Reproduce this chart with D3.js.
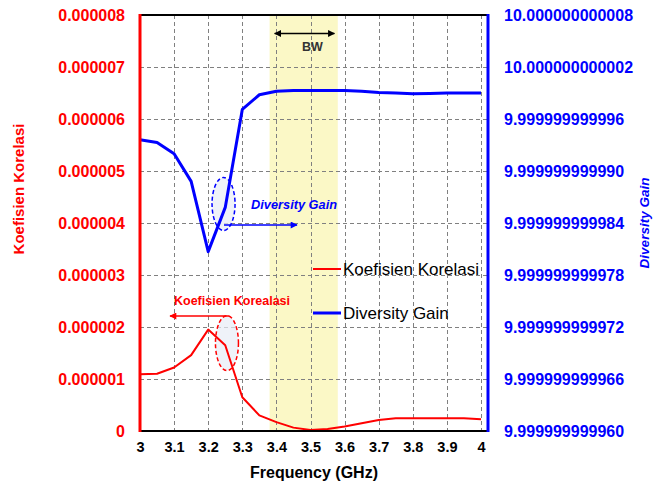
<!DOCTYPE html>
<html>
<head>
<meta charset="utf-8">
<script src="https://cdn.jsdelivr.net/npm/d3@7"></script>
<style>
  body { margin: 0; background: #fff; }
  svg { display: block; }
  text { font-family: "Liberation Sans", Arial, sans-serif; }
</style>
</head>
<body>
<svg id="chart" width="661" height="483"></svg>
<script>
// Frequency sweep (GHz)
const frequency = [3.0, 3.05, 3.1, 3.15, 3.2, 3.25, 3.3, 3.35, 3.4, 3.45, 3.5,
                   3.55, 3.6, 3.65, 3.7, 3.75, 3.8, 3.85, 3.9, 3.95, 4.0];
// Envelope correlation coefficient
const korelasi = [1.09e-6, 1.10e-6, 1.22e-6, 1.46e-6, 1.95e-6, 1.65e-6, 0.65e-6, 0.30e-6,
                  0.17e-6, 0.065e-6, 0.02e-6, 0.04e-6, 0.085e-6, 0.15e-6, 0.21e-6, 0.245e-6,
                  0.245e-6, 0.245e-6, 0.245e-6, 0.245e-6, 0.225e-6];
// Diversity gain (dB)
const diversityGain = [9.9999999999936, 9.9999999999933, 9.9999999999920, 9.9999999999888,
                       9.9999999999807, 9.9999999999858, 9.9999999999971, 9.9999999999988,
                       9.9999999999992, 9.9999999999993, 9.9999999999993, 9.9999999999993,
                       9.9999999999993, 9.9999999999992, 9.99999999999905, 9.9999999999990,
                       9.9999999999989, 9.99999999999895, 9.9999999999990, 9.9999999999990,
                       9.9999999999990];

const xTicks = [3, 3.1, 3.2, 3.3, 3.4, 3.5, 3.6, 3.7, 3.8, 3.9, 4];
const xTickLabels = ["3", "3.1", "3.2", "3.3", "3.4", "3.5", "3.6", "3.7", "3.8", "3.9", "4"];
const leftTicks = [0, 1e-6, 2e-6, 3e-6, 4e-6, 5e-6, 6e-6, 7e-6, 8e-6];
const leftTickLabels = ["0", "0.000001", "0.000002", "0.000003", "0.000004",
                        "0.000005", "0.000006", "0.000007", "0.000008"];
const rightTickLabels = ["9.999999999960", "9.999999999966", "9.999999999972", "9.999999999978",
                         "9.999999999984", "9.999999999990", "9.999999999996", "10.000000000002",
                         "10.000000000008"];
const rightTicks = rightTickLabels.map(Number);
const bandwidth = [3.38, 3.58];

const RED = "#ff0000", BLUE = "#0000ff";
const svg = d3.select("#chart");

const plot = { left: 140, right: 488, top: 15, bottom: 431 };
const x = d3.scaleLinear().domain([3, 4]).range([140, 481]);
const yL = d3.scaleLinear().domain([0, 8e-6]).range([plot.bottom, plot.top]);
const yR = d3.scaleLinear().domain([rightTicks[0], rightTicks[rightTicks.length - 1]])
  .range([plot.bottom, plot.top]);

// Bandwidth highlight
svg.append("rect")
  .attr("x", x(bandwidth[0])).attr("y", plot.top)
  .attr("width", x(bandwidth[1]) - x(bandwidth[0]))
  .attr("height", plot.bottom - plot.top)
  .attr("fill", "#fbf8c6");

// Dashed grid
const grid = svg.append("g").attr("stroke", "#808080").attr("stroke-width", 1)
  .attr("stroke-dasharray", "4,3");
grid.selectAll("line.v").data(xTicks.slice(1)).join("line")
  .attr("x1", d => Math.round(x(d)) + 0.5).attr("x2", d => Math.round(x(d)) + 0.5)
  .attr("y1", plot.top).attr("y2", plot.bottom);
grid.selectAll("line.h").data(leftTicks.slice(1, -1)).join("line")
  .attr("x1", plot.left).attr("x2", plot.right)
  .attr("y1", d => Math.round(yL(d)) + 0.5).attr("y2", d => Math.round(yL(d)) + 0.5);

// Annotation ellipses
svg.append("ellipse")
  .attr("cx", x(3.245)).attr("cy", yR(9.9999999999862))
  .attr("rx", 11.5).attr("ry", 26.5)
  .attr("fill", "#e8edf7").attr("fill-opacity", 0.7)
  .attr("stroke", BLUE).attr("stroke-width", 1.5).attr("stroke-dasharray", "4,2.5");
svg.append("ellipse")
  .attr("cx", x(3.255)).attr("cy", yL(1.69e-6))
  .attr("rx", 11.5).attr("ry", 27.5)
  .attr("fill", "#e8edf7").attr("fill-opacity", 0.7)
  .attr("stroke", RED).attr("stroke-width", 1.5).attr("stroke-dasharray", "4,2.5");

// Series lines
const lineK = d3.line().x((d, i) => x(frequency[i])).y(d => yL(d));
const lineD = d3.line().x((d, i) => x(frequency[i])).y(d => yR(d));
svg.append("path").datum(diversityGain).attr("d", lineD)
  .attr("fill", "none").attr("stroke", BLUE).attr("stroke-width", 3)
  .attr("stroke-linejoin", "round");
svg.append("path").datum(korelasi).attr("d", lineK)
  .attr("fill", "none").attr("stroke", RED).attr("stroke-width", 2)
  .attr("stroke-linejoin", "round");

// Frame
svg.append("line").attr("x1", plot.left).attr("x2", plot.right)
  .attr("y1", plot.top).attr("y2", plot.top).attr("stroke", "#000").attr("stroke-width", 2);
svg.append("line").attr("x1", plot.left).attr("x2", plot.right)
  .attr("y1", plot.bottom).attr("y2", plot.bottom).attr("stroke", "#000").attr("stroke-width", 2);
svg.append("line").attr("x1", plot.left).attr("x2", plot.left)
  .attr("y1", plot.top - 1).attr("y2", plot.bottom + 1).attr("stroke", RED).attr("stroke-width", 3);
svg.append("line").attr("x1", plot.right).attr("x2", plot.right)
  .attr("y1", plot.top - 1).attr("y2", plot.bottom + 1).attr("stroke", BLUE).attr("stroke-width", 3);

// Axes (labels only; frame drawn above)
const axL = d3.axisLeft(yL).tickValues(leftTicks).tickSize(0).tickPadding(0)
  .tickFormat((d, i) => leftTickLabels[i]);
const gL = svg.append("g").attr("transform", "translate(125,0)").call(axL);
gL.select(".domain").remove();
gL.selectAll("text").attr("fill", RED).attr("font-size", 16).attr("font-weight", "bold")
  .attr("font-family", "Liberation Sans, Arial, sans-serif");

const axR = d3.axisRight(yR).tickValues(rightTicks).tickSize(0).tickPadding(0)
  .tickFormat((d, i) => rightTickLabels[i]);
const gR = svg.append("g").attr("transform", "translate(504,0)").call(axR);
gR.select(".domain").remove();
gR.selectAll("text").attr("fill", BLUE).attr("font-size", 16).attr("font-weight", "bold")
  .attr("font-family", "Liberation Sans, Arial, sans-serif");

const axB = d3.axisBottom(x).tickValues(xTicks).tickSize(0).tickPadding(0)
  .tickFormat((d, i) => xTickLabels[i]);
const gB = svg.append("g").attr("transform", "translate(0,442)").call(axB);
gB.select(".domain").remove();
gB.selectAll("text").attr("fill", "#000").attr("font-size", 14.5).attr("font-weight", "bold")
  .attr("font-family", "Liberation Sans, Arial, sans-serif");

// Axis titles
svg.append("text").attr("x", 314).attr("y", 478).attr("text-anchor", "middle")
  .attr("font-size", 16).attr("font-weight", "bold").attr("fill", "#000")
  .text("Frequency (GHz)");
svg.append("text").attr("transform", "translate(24,189) rotate(-90)")
  .attr("text-anchor", "middle").attr("font-size", 15).attr("font-weight", "bold")
  .attr("fill", RED).text("Koefisien Korelasi");
svg.append("text").attr("transform", "translate(649,223) rotate(-90)")
  .attr("text-anchor", "middle").attr("font-size", 13.5).attr("font-weight", "bold")
  .attr("font-style", "italic").attr("fill", BLUE).text("Diversity Gain");

// Arrow markers
const defs = svg.append("defs");
[["arrowBlack", "#000"], ["arrowBlue", BLUE], ["arrowRed", RED]].forEach(([id, c]) => {
  defs.append("marker").attr("id", id).attr("viewBox", "0 0 10 10")
    .attr("refX", 9).attr("refY", 5).attr("markerWidth", 9).attr("markerHeight", 7)
    .attr("markerUnits", "userSpaceOnUse").attr("orient", "auto-start-reverse")
    .append("path").attr("d", "M0,0 L10,5 L0,10 Z").attr("fill", c);
});

// Bandwidth marker
svg.append("line").attr("x1", x(3.395)).attr("x2", x(3.57))
  .attr("y1", 33.5).attr("y2", 33.5).attr("stroke", "#000").attr("stroke-width", 1.3)
  .attr("marker-start", "url(#arrowBlack)").attr("marker-end", "url(#arrowBlack)");
svg.append("text").attr("x", x(3.5) + 2).attr("y", 51).attr("text-anchor", "middle")
  .attr("font-size", 12.5).attr("font-weight", "bold").attr("fill", "#333").text("BW");

// Series callouts
svg.append("line").attr("x1", 224).attr("x2", 297).attr("y1", 225).attr("y2", 225)
  .attr("stroke", BLUE).attr("stroke-width", 1.3).attr("marker-end", "url(#arrowBlue)");
svg.append("text").attr("x", 251).attr("y", 209)
  .attr("font-size", 12.8).attr("font-weight", "bold").attr("font-style", "italic")
  .attr("fill", BLUE).text("Diversity Gain");
svg.append("line").attr("x1", 229).attr("x2", 170).attr("y1", 316).attr("y2", 316)
  .attr("stroke", RED).attr("stroke-width", 1.3).attr("marker-end", "url(#arrowRed)");
svg.append("text").attr("x", 174).attr("y", 305)
  .attr("font-size", 12.5).attr("font-weight", "bold").attr("fill", RED)
  .text("Koefisien Korealasi");

// Legend
const legend = [
  { label: "Koefisien Korelasi", color: RED, width: 2, y: 269 },
  { label: "Diversity Gain", color: BLUE, width: 3, y: 313 }
];
const lg = svg.append("g");
legend.forEach(item => {
  lg.append("line").attr("x1", 313).attr("x2", 341).attr("y1", item.y).attr("y2", item.y)
    .attr("stroke", item.color).attr("stroke-width", item.width);
  lg.append("text").attr("x", 343).attr("y", item.y + 6)
    .attr("font-size", 17).attr("fill", "#000").text(item.label);
});
</script>
</body>
</html>
